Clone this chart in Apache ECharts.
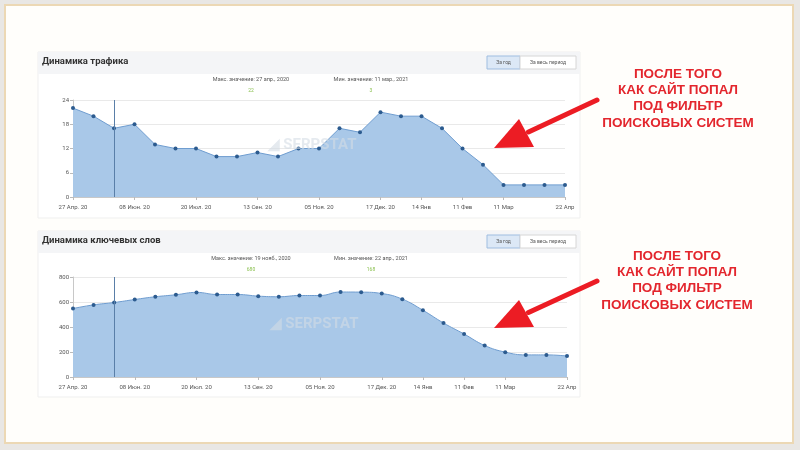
<!DOCTYPE html>
<html>
<head>
<meta charset="utf-8">
<script src="https://cdn.jsdelivr.net/npm/echarts@6/dist/echarts.min.js"></script>
<style>html,body{margin:0;padding:0;background:#e9e7e4;}#c{width:800px;height:450px;}</style>
</head>
<body>
<div id="c"></div>
<script>
// ---- data ----
var tickLabels = ['27 Апр. 20','','','08 Июн. 20','','','20 Июл. 20','','','13 Сен. 20','','','05 Ноя. 20','','','17 Дек. 20','','14 Янв','','11 Фев','','11 Мар','','','22 Апр'];
var trafficValues = [22,20,17,18,13,12,12,10,10,11,10,12,12,17,16,21,20,20,17,12,8,3,3,3,3];
var keywordValues = [548,577,596,620,642,658,677,660,660,647,642,652,652,680,679,668,623,534,432,344,252,199,177,177,168];
var trafficTicks = [0,6,12,18,24];
var keywordTicks = [0,200,400,600,800];
var markerIndex = 2;
var titles = ['Динамика трафика','Динамика ключевых слов'];
var maxNotes = ['Макс. значение: 27 апр., 2020','Макс. значение: 19 нояб., 2020'];
var minNotes = ['Мин. значение: 11 мар., 2021','Мин. значение: 22 апр., 2021'];
var maxVals = ['22','680'];
var minVals = ['3','168'];
var calloutLines = ['ПОСЛЕ ТОГО','КАК САЙТ ПОПАЛ','ПОД ФИЛЬТР','ПОИСКОВЫХ СИСТЕМ'];
var buttons = ['За год','За весь период'];

var cats = tickLabels.map(function(_, i){ return String(i); });
var chart = echarts.init(document.getElementById('c'), null, {renderer:'canvas'});
var FONT = 'Roboto, "Liberation Sans", Arial, sans-serif';

function xAxis(gi){
  return {
    type:'category', gridIndex:gi, data:cats, boundaryGap:false,
    axisLine:{lineStyle:{color:'#c8c8c8'}},
    axisTick:{show:true, length:3, lineStyle:{color:'#bbb'}, interval:function(i){return tickLabels[i]!=='';}},
    axisLabel:{fontSize:6, color:'#555', fontFamily:FONT, margin:7,
      interval:function(i){return tickLabels[i]!=='';},
      formatter:function(v){return tickLabels[+v];}},
    splitLine:{show:false}
  };
}
function yAxis(gi, ticks){
  return {
    type:'value', gridIndex:gi, min:ticks[0], max:ticks[ticks.length-1],
    interval:ticks[1]-ticks[0],
    axisLine:{show:true, lineStyle:{color:'#c8c8c8'}},
    axisTick:{show:true, length:3, lineStyle:{color:'#bbb'}},
    axisLabel:{fontSize:6, color:'#555', fontFamily:FONT, margin:4},
    splitLine:{lineStyle:{color:'#e9e9e9'}}
  };
}
function series(gi, data, smooth){
  return {
    type:'line', xAxisIndex:gi, yAxisIndex:gi, data:data, smooth:smooth,
    symbol:'circle', symbolSize:4, showSymbol:true,
    itemStyle:{color:'#2c5b8f'},
    lineStyle:{color:'#6f9dd0', width:1},
    areaStyle:{color:'#a9c8e8', opacity:1},
    markLine:{silent:true, symbol:'none', label:{show:false},
      lineStyle:{color:'#5a7fa8', width:1, type:'solid'},
      data:[{xAxis:String(markerIndex)}]},
    z:2
  };
}

var graphics = [];
graphics.push({type:'rect', shape:{x:5,y:5,width:788,height:438}, style:{fill:'#fffefb', stroke:'#ecd8b4', lineWidth:2}, z:-10});

function header(idx, y0){
  graphics.push({type:'rect', shape:{x:38,y:y0,width:542,height:166}, style:{fill:'#ffffff', stroke:'#efefef', lineWidth:1}, z:-5});
  graphics.push({type:'rect', shape:{x:38,y:y0,width:542,height:22}, style:{fill:'#f4f5f7'}, z:-4});
  graphics.push({type:'text', x:42, y:y0+10, style:{text:titles[idx], fill:'#333', font:'bold 9.5px '+FONT, textVerticalAlign:'middle'}, z:5});
  graphics.push({type:'rect', shape:{x:487,y:y0+4,width:33,height:13}, style:{fill:'#dce8f6', stroke:'#9fbde0', lineWidth:1}, z:5});
  graphics.push({type:'rect', shape:{x:520,y:y0+4,width:56,height:13}, style:{fill:'#ffffff', stroke:'#d6d6d6', lineWidth:1}, z:5});
  graphics.push({type:'text', x:503.5, y:y0+10.5, style:{text:buttons[0], fill:'#555', font:'5px '+FONT, textAlign:'center', textVerticalAlign:'middle'}, z:6});
  graphics.push({type:'text', x:548, y:y0+10.5, style:{text:buttons[1], fill:'#555', font:'5px '+FONT, textAlign:'center', textVerticalAlign:'middle'}, z:6});
  graphics.push({type:'text', x:251, y:y0+28, style:{text:maxNotes[idx], fill:'#555', font:'5.5px '+FONT, textAlign:'center', textVerticalAlign:'middle'}, z:5});
  graphics.push({type:'text', x:371, y:y0+28, style:{text:minNotes[idx], fill:'#555', font:'5.5px '+FONT, textAlign:'center', textVerticalAlign:'middle'}, z:5});
  graphics.push({type:'text', x:251, y:y0+39, style:{text:maxVals[idx], fill:'#8cc152', font:'5px '+FONT, textAlign:'center', textVerticalAlign:'middle'}, z:5});
  graphics.push({type:'text', x:371, y:y0+39, style:{text:minVals[idx], fill:'#8cc152', font:'5px '+FONT, textAlign:'center', textVerticalAlign:'middle'}, z:5});
}
header(0, 52);
header(1, 231);

function watermark(cx, cy){
  graphics.push({type:'text', x:cx, y:cy, style:{text:'◢ SERPSTAT', fill:'rgba(212,220,229,0.6)', font:'bold 15px '+FONT, textAlign:'center', textVerticalAlign:'middle'}, z:20});
}
watermark(312, 145);
watermark(314, 324);

function arrow(tail, tip, c1, c2){
  var mid = [(c1[0]+c2[0])/2, (c1[1]+c2[1])/2];
  graphics.push({type:'line', shape:{x1:tail[0],y1:tail[1],x2:mid[0]+2,y2:mid[1]-1}, style:{stroke:'#ec1c24', lineWidth:5, lineCap:'round'}, z:30});
  graphics.push({type:'polygon', shape:{points:[tip, c1, c2]}, style:{fill:'#ec1c24'}, z:30});
}
arrow([597,100],[494,148],[519,119],[534,147]);
arrow([597,281],[494,328],[519,300],[534,327]);

function callout(cx, y0){
  calloutLines.forEach(function(t, i){
    graphics.push({type:'text', x:cx, y:y0+i*16.3, style:{text:t, fill:'#e3262d', font:'bold 13.5px "Liberation Sans", Arial, sans-serif', textAlign:'center', textVerticalAlign:'middle'}, z:30});
  });
}
callout(678, 74);
callout(677, 256);

chart.setOption({
  backgroundColor:'#e9e7e4',
  animation:false,
  grid:[
    {left:73, top:100, width:492, height:97},
    {left:73, top:277, width:494, height:100}
  ],
  xAxis:[xAxis(0), xAxis(1)],
  yAxis:[yAxis(0, trafficTicks), yAxis(1, keywordTicks)],
  series:[series(0, trafficValues, false), series(1, keywordValues, 0.45)],
  graphic:graphics
});
</script>
</body>
</html>
